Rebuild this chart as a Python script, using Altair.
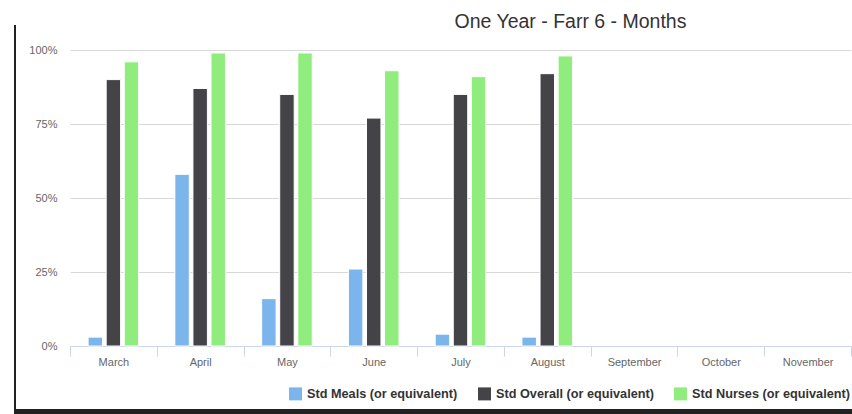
import altair as alt
import pandas as pd

months = ["March", "April", "May", "June", "July", "August", "September", "October", "November"]
series = ["Std Meals (or equivalent)", "Std Overall (or equivalent)", "Std Nurses (or equivalent)"]
colors = ["#7cb5ec", "#434348", "#90ed7d"]
meals = [3, 58, 16, 26, 4, 3]
overall = [90, 87, 85, 77, 85, 92]
nurses = [96, 99, 99, 93, 91, 98]
y_ticks = [0, 25, 50, 75, 100]

rows = []
for i, m in enumerate(months[:len(meals)]):
    for s, vals in zip(series, [meals, overall, nurses]):
        rows.append({"month": m, "series": s, "value": vals[i]})
df = pd.DataFrame(rows)

FONT = "Liberation Sans"

bars = alt.Chart(df).mark_bar(stroke="white", strokeWidth=1).encode(
    x=alt.X("month:N",
            scale=alt.Scale(domain=months, paddingInner=0, paddingOuter=0),
            axis=alt.Axis(title=None, labelAngle=0, tickBand="extent",
                          domainColor="#ccd6eb", tickColor="#ccd6eb", tickSize=10,
                          labelColor="#666666", labelFont=FONT, labelFontSize=11,
                          labelPadding=0, grid=False)),
    xOffset=alt.XOffset("series:N",
                        scale=alt.Scale(domain=series, paddingInner=0.2, paddingOuter=1)),
    y=alt.Y("value:Q",
            scale=alt.Scale(domain=[0, 100]),
            axis=alt.Axis(title=None, values=y_ticks, labelExpr="datum.value + '%'",
                          domain=False, ticks=False, gridColor="#d8d8d8",
                          labelColor="#666666", labelFont=FONT, labelFontSize=11,
                          labelPadding=13)),
    color=alt.Color("series:N",
                    scale=alt.Scale(domain=series, range=colors),
                    legend=alt.Legend(title=None, orient="none", legendX=219, legendY=337,
                                      direction="horizontal", padding=0,
                                      symbolType="square", symbolSize=169,
                                      symbolStrokeWidth=0, symbolOpacity=1,
                                      labelFont=FONT, labelFontWeight="bold",
                                      labelFontSize=12.7, labelColor="#333333",
                                      labelOffset=5, columnPadding=20, labelLimit=300)),
)

deco = pd.DataFrame({"k": [0]})
left_line = alt.Chart(deco).mark_rule(color="#222222", strokeWidth=2).encode(
    x=alt.value(-55), y=alt.value(-25), y2=alt.value(364))
bottom_band = alt.Chart(deco).mark_rect(color="#222222").encode(
    x=alt.value(-56), x2=alt.value(782), y=alt.value(359), y2=alt.value(364))

chart = alt.layer(bars, left_line, bottom_band).properties(
    width=781, height=296,
    autosize=alt.AutoSizeParams(type="none"),
    padding={"left": 70, "top": 50, "right": 1, "bottom": 68},
    title=alt.TitleParams("One Year - Farr 6 - Months", font=FONT, fontSize=19.5,
                          color="#333333", fontWeight="normal", anchor="middle",
                          dx=110, dy=21, offset=-2, baseline="alphabetic"),
    background="white",
).configure_view(stroke=None)

chart.save("out.html", embed_options={"renderer": "svg", "actions": False})
